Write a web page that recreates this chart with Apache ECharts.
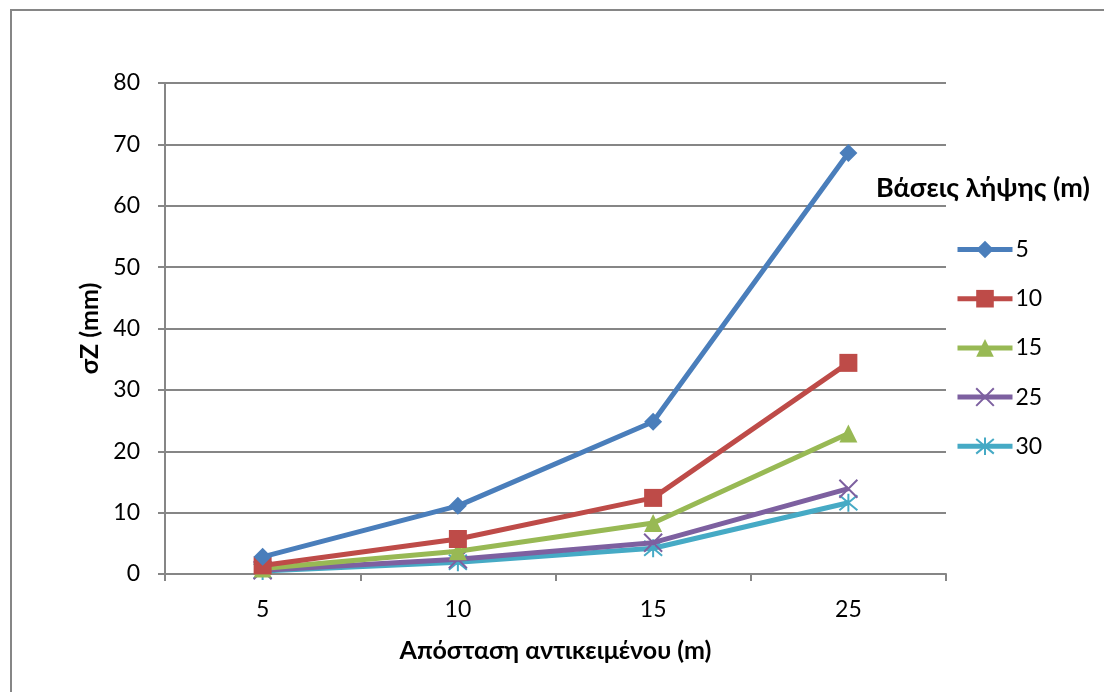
<!DOCTYPE html>
<html><head><meta charset="utf-8">
<script src="https://cdn.jsdelivr.net/npm/echarts@6/dist/echarts.min.js"></script>
<style>html,body{margin:0;padding:0;background:#fff}#c{width:1104px;height:692px}</style>
</head><body><div id="c"></div>
<script>
const categories = ['5', '10', '15', '25'];
const seriesNames = ['5', '10', '15', '25', '30'];
const s5 = [2.8, 11.1, 24.8, 68.6];
const s10 = [1.4, 5.7, 12.4, 34.4];
const s15 = [0.9, 3.7, 8.3, 22.9];
const s25 = [0.6, 2.4, 5.1, 13.9];
const s30 = [0.5, 1.9, 4.2, 11.6];
const yTicks = [0, 10, 20, 30, 40, 50, 60, 70, 80];

const FONT = 'Lato, "Open Sans", sans-serif';
const colors = ['#4A7EBB', '#BE4B48', '#98B954', '#7D60A0', '#46AAC5'];
const symbols = [
  'diamond', 'rect', 'triangle',
  'path://M0,0 L10,10 M10,0 L0,10',
  'path://M0,0 L10,10 M10,0 L0,10 M5,-1 L5,11'
];
const sizes = [18, 18, 18, 18, 18];
const data = [s5, s10, s15, s25, s30];

const chart = echarts.init(document.getElementById('c'));
chart.setOption({
  animation: false,
  backgroundColor: '#fff',
  grid: { left: 165, right: 158, top: 83, bottom: 118, containLabel: false },
  title: {
    text: 'Βάσεις λήψης (m)', left: 876, top: 175, padding: 0,
    textStyle: { fontFamily: FONT, fontWeight: 'bold', fontSize: 27, color: '#000' }
  },
  legend: {
    orient: 'vertical', left: 955, top: 238, padding: 0,
    itemWidth: 55, itemHeight: 22, itemGap: 26.2,
    lineStyle: { width: 5 },
    textStyle: { fontFamily: FONT, fontSize: 23, color: '#000', padding: [0, 0, 0, -2] },
    data: seriesNames
  },
  xAxis: {
    type: 'category', data: categories, boundaryGap: true,
    name: 'Απόσταση αντικειμένου (m)', nameLocation: 'middle', nameGap: 64,
    nameTextStyle: { fontFamily: FONT, fontWeight: 'bold', fontSize: 25, color: '#000' },
    axisLine: { lineStyle: { color: '#868686', width: 2 } },
    axisTick: { show: true, length: 7, alignWithLabel: false, lineStyle: { color: '#868686', width: 2 } },
    axisLabel: { fontFamily: FONT, fontSize: 23, color: '#000', margin: 24 },
    splitLine: { show: false }
  },
  yAxis: {
    type: 'value', min: 0, max: 80, interval: 10,
    name: 'σZ (mm)', nameLocation: 'middle', nameGap: 63, nameRotate: 90,
    nameTextStyle: { fontFamily: FONT, fontWeight: 'bold', fontSize: 25, color: '#000' },
    axisLine: { show: true, lineStyle: { color: '#868686', width: 2 } },
    axisTick: { show: true, length: 7, lineStyle: { color: '#868686', width: 2 } },
    axisLabel: {
      fontFamily: FONT, fontSize: 23, color: '#000', margin: 25,
      formatter: v => yTicks.includes(v) ? String(v) : ''
    },
    splitLine: { show: true, lineStyle: { color: '#868686', width: 2 } }
  },
  graphic: [{
    type: 'rect', shape: { x: 11, y: 10, width: 1110, height: 700 },
    style: { fill: 'none', stroke: '#868686', lineWidth: 2 }, silent: true, z: -1
  }],
  series: seriesNames.map((n, i) => ({
    name: n, type: 'line', data: data[i],
    symbol: symbols[i], symbolSize: sizes[i],
    lineStyle: { width: 5, color: colors[i] },
    itemStyle: i >= 3
      ? { color: colors[i], borderColor: colors[i], borderWidth: 2 }
      : { color: colors[i] },
    z: 10 - i
  }))
});
</script>
</body></html>
